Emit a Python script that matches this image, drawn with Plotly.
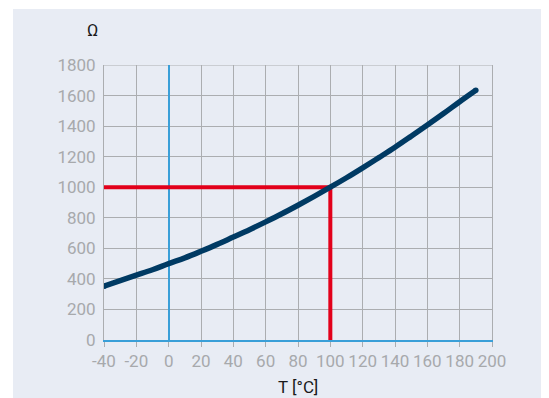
import plotly.graph_objects as go

# Data
temps = [-40, -30, -20, -10, 0, 10, 20, 30, 40, 50, 60, 70, 80, 90, 100,
         110, 120, 130, 140, 150, 160, 170, 180, 190]
resist = [352, 388, 424, 460, 500, 538, 581, 626, 674, 722, 773, 826, 882, 940, 1000,
          1062, 1127, 1194, 1262, 1334, 1407, 1482, 1560, 1635]
ref_x = [-40, 100, 100]
ref_y = [1000, 1000, 0]
x_ticks = [-40, -20, 0, 20, 40, 60, 80, 100, 120, 140, 160, 180, 200]
y_ticks = [0, 200, 400, 600, 800, 1000, 1200, 1400, 1600, 1800]

BG = "#E8ECF4"
GRID = "#ABADB0"
BLUE = "#3A9FD8"
CURVE = "#003A63"
FONT = "Roboto, Liberation Sans, sans-serif"

fig = go.Figure()
fig.add_trace(go.Scatter(x=ref_x, y=ref_y, mode="lines",
                         line=dict(color="#E2001A", width=4), hoverinfo="skip"))
fig.add_trace(go.Scatter(x=temps, y=resist, mode="lines",
                         line=dict(color=CURVE, width=5.5, shape="spline"), hoverinfo="skip"))
# round caps at curve ends
fig.add_trace(go.Scatter(x=[temps[0], temps[-1]], y=[resist[0], resist[-1]], mode="markers",
                         marker=dict(color=CURVE, size=5.5, line_width=0), hoverinfo="skip"))

W, H = 541, 390
L, R, T, B = 96, 57, 57, 58
pw, ph = W - L - R, H - T - B

# page background panel (white margin at top-left)
fig.add_shape(type="rect", xref="paper", yref="paper",
              x0=(5 - L) / pw, x1=(W - L) / pw + 0.05,
              y0=-(B + 5) / ph, y1=(ph + T - 1) / ph,
              fillcolor=BG, line_width=0, layer="below")
# top frame line at 1800
fig.add_shape(type="line", xref="paper", yref="y", x0=0, x1=1, y0=1800, y1=1800,
              line=dict(color=GRID, width=1), layer="below")

fig.update_layout(
    width=W, height=H,
    margin=dict(l=L, r=R, t=T, b=B),
    paper_bgcolor="white", plot_bgcolor=BG,
    showlegend=False,
    font=dict(family=FONT, size=17, color="#A7A9AC"),
    annotations=[
        dict(text="Ω", xref="paper", yref="paper", x=(84 - L) / pw, y=1 + (57 - 22) / ph,
             showarrow=False, xanchor="center", yanchor="middle",
             font=dict(size=17, color="#1A1A1A", family=FONT)),
        dict(text="T [°C]", xref="paper", yref="paper", x=(290 - L) / pw, y=-(379 - 332) / ph,
             showarrow=False, xanchor="center", yanchor="middle",
             font=dict(size=17, color="#1A1A1A", family=FONT)),
    ],
)
fig.update_xaxes(range=[-40, 200], tickvals=x_ticks, ticktext=[str(v) for v in x_ticks],
                 tickangle=0,
                 showgrid=True, gridcolor=GRID, gridwidth=1,
                 zeroline=True, zerolinecolor=BLUE, zerolinewidth=1.5,
                 showline=True, linecolor=BLUE, linewidth=2,
                 ticks="outside", ticklen=5, tickcolor=GRID, tickwidth=1,
                 fixedrange=True)
fig.update_yaxes(range=[0, 1800], tickvals=y_ticks, ticktext=[str(v) for v in y_ticks],
                 showgrid=True, gridcolor=GRID, gridwidth=1,
                 zeroline=False,
                 showline=True, mirror=True, linecolor=GRID, linewidth=1,
                 ticks="outside", ticklen=4, tickcolor="rgba(0,0,0,0)",
                 fixedrange=True)

fig.write_html("out.html", config={"displayModeBar": False})
